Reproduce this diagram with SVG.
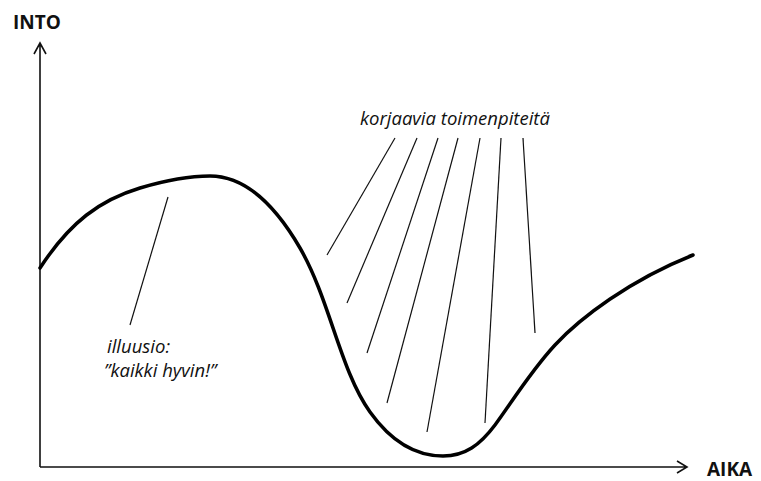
<svg xmlns="http://www.w3.org/2000/svg" width="761" height="481" viewBox="0 0 761 481">
<style>
.axis{stroke:#111;stroke-width:1.6;fill:none}
.curve{stroke:#000;stroke-width:3.5;fill:none;stroke-linecap:round}
.ptr{stroke:#111;stroke-width:1.2;fill:none}
.lbl{font-family:"Open Sans","Liberation Sans",sans-serif;font-style:italic;font-size:18.5px;fill:#111}
.ax{font-family:"Open Sans","Liberation Sans",sans-serif;font-weight:bold;font-size:19px;fill:#111}
</style>
<rect width="761" height="481" fill="#fff"/>
<g id="axes">
<path class="axis" d="M40,467 V43 M34,54 L40,43 L46,54"/>
<path class="axis" d="M40,467 H687 M677,461 L687,467 L677,473"/>
<text class="ax" x="13" y="29">INTO</text>
<text class="ax" x="707" y="476">AIKA</text>
</g>
<g id="curve">
<path class="curve" d="M40,268 C70,222 100,200 140,188 C170,179 190,176 210,176 C245,176 275,205 300,248 C330,300 340,370 370,412 C390,440 415,456 443,456 C465,456 480,445 495,425 C510,405 530,372 555,345 C580,318 630,280 693,255"/>
</g>
<g id="connectors">
<line class="ptr" x1="168" y1="197" x2="130" y2="325"/>
<line class="ptr" x1="395" y1="138" x2="327" y2="255"/>
<line class="ptr" x1="417" y1="138" x2="347" y2="303"/>
<line class="ptr" x1="438" y1="138" x2="367" y2="353"/>
<line class="ptr" x1="458" y1="138" x2="387" y2="403"/>
<line class="ptr" x1="480" y1="138" x2="427" y2="432"/>
<line class="ptr" x1="501" y1="138" x2="485" y2="423"/>
<line class="ptr" x1="523" y1="138" x2="535" y2="333"/>
</g>
<g id="illuusio">
<text class="lbl" x="107" y="353">illuusio:</text>
<text class="lbl" x="104" y="377">”kaikki hyvin!”</text>
</g>
<g id="korjaavia">
<text class="lbl" x="360" y="125">korjaavia toimenpiteitä</text>
</g>
</svg>
